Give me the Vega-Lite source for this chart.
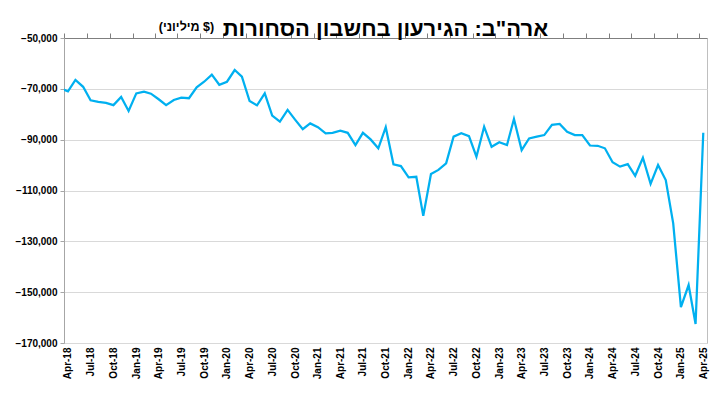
{
  "$schema": "https://vega.github.io/schema/vega-lite/v6.json",
  "width": 643,
  "height": 305,
  "autosize": {"type": "none"},
  "padding": {"left": 64, "top": 38, "right": 11, "bottom": 55},
  "background": "white",
  "title": {
    "text": "ארה\"ב: הגירעון בחשבון הסחורות",
    "font": "Liberation Sans",
    "fontSize": 22,
    "fontWeight": "bold",
    "color": "#000000",
    "anchor": "middle",
    "frame": "group",
    "offset": 6,
    "dy": 27
  },
  "config": {
    "view": {"stroke": "#bfbfbf", "strokeWidth": 1}
  },
  "data": {
    "values": [
      {"date": "2018-03-01", "value": -69700},
      {"date": "2018-04-01", "value": -71000},
      {"date": "2018-05-01", "value": -66500},
      {"date": "2018-06-01", "value": -69200},
      {"date": "2018-07-01", "value": -74500},
      {"date": "2018-08-01", "value": -75100},
      {"date": "2018-09-01", "value": -75500},
      {"date": "2018-10-01", "value": -76400},
      {"date": "2018-11-01", "value": -73200},
      {"date": "2018-12-01", "value": -78700},
      {"date": "2019-01-01", "value": -71800},
      {"date": "2019-02-01", "value": -71100},
      {"date": "2019-03-01", "value": -71900},
      {"date": "2019-04-01", "value": -74100},
      {"date": "2019-05-01", "value": -76400},
      {"date": "2019-06-01", "value": -74400},
      {"date": "2019-07-01", "value": -73500},
      {"date": "2019-08-01", "value": -73700},
      {"date": "2019-09-01", "value": -69400},
      {"date": "2019-10-01", "value": -67200},
      {"date": "2019-11-01", "value": -64400},
      {"date": "2019-12-01", "value": -68400},
      {"date": "2020-01-01", "value": -67200},
      {"date": "2020-02-01", "value": -62600},
      {"date": "2020-03-01", "value": -65200},
      {"date": "2020-04-01", "value": -74800},
      {"date": "2020-05-01", "value": -76500},
      {"date": "2020-06-01", "value": -71800},
      {"date": "2020-07-01", "value": -80500},
      {"date": "2020-08-01", "value": -82900},
      {"date": "2020-09-01", "value": -78300},
      {"date": "2020-10-01", "value": -82100},
      {"date": "2020-11-01", "value": -85900},
      {"date": "2020-12-01", "value": -83600},
      {"date": "2021-01-01", "value": -85100},
      {"date": "2021-02-01", "value": -87500},
      {"date": "2021-03-01", "value": -87300},
      {"date": "2021-04-01", "value": -86500},
      {"date": "2021-05-01", "value": -87300},
      {"date": "2021-06-01", "value": -92100},
      {"date": "2021-07-01", "value": -87300},
      {"date": "2021-08-01", "value": -89900},
      {"date": "2021-09-01", "value": -93400},
      {"date": "2021-10-01", "value": -85100},
      {"date": "2021-11-01", "value": -99700},
      {"date": "2021-12-01", "value": -100400},
      {"date": "2022-01-01", "value": -104800},
      {"date": "2022-02-01", "value": -104600},
      {"date": "2022-03-01", "value": -120000},
      {"date": "2022-04-01", "value": -103500},
      {"date": "2022-05-01", "value": -101900},
      {"date": "2022-06-01", "value": -99300},
      {"date": "2022-07-01", "value": -88800},
      {"date": "2022-08-01", "value": -87500},
      {"date": "2022-09-01", "value": -88600},
      {"date": "2022-10-01", "value": -96700},
      {"date": "2022-11-01", "value": -84900},
      {"date": "2022-12-01", "value": -92800},
      {"date": "2023-01-01", "value": -91000},
      {"date": "2023-02-01", "value": -92100},
      {"date": "2023-03-01", "value": -81900},
      {"date": "2023-04-01", "value": -94100},
      {"date": "2023-05-01", "value": -89500},
      {"date": "2023-06-01", "value": -88800},
      {"date": "2023-07-01", "value": -88200},
      {"date": "2023-08-01", "value": -84200},
      {"date": "2023-09-01", "value": -83800},
      {"date": "2023-10-01", "value": -86900},
      {"date": "2023-11-01", "value": -88200},
      {"date": "2023-12-01", "value": -88200},
      {"date": "2024-01-01", "value": -92300},
      {"date": "2024-02-01", "value": -92400},
      {"date": "2024-03-01", "value": -93400},
      {"date": "2024-04-01", "value": -98900},
      {"date": "2024-05-01", "value": -100600},
      {"date": "2024-06-01", "value": -99600},
      {"date": "2024-07-01", "value": -104200},
      {"date": "2024-08-01", "value": -97100},
      {"date": "2024-09-01", "value": -107400},
      {"date": "2024-10-01", "value": -100000},
      {"date": "2024-11-01", "value": -105900},
      {"date": "2024-12-01", "value": -122900},
      {"date": "2025-01-01", "value": -155900},
      {"date": "2025-02-01", "value": -147200},
      {"date": "2025-03-01", "value": -162500},
      {"date": "2025-04-01", "value": -87300}
    ]
  },
  "resolve": {"axis": {"x": "independent"}},
  "layer": [
    {
      "mark": {"type": "line", "color": "#00b0f0", "strokeWidth": 2.25, "clip": true},
      "encoding": {
        "x": {
          "field": "date",
          "type": "temporal",
          "scale": {
            "type": "utc",
            "domain": [
              {"year": 2018, "month": 3, "date": 16, "utc": true},
              {"year": 2025, "month": 4, "date": 16, "utc": true}
            ]
          },
          "axis": {
            "orient": "bottom",
            "title": null,
            "tickCount": {"interval": "month", "step": 3},
            "format": "%b-%y",
            "labelAngle": -90,
            "labelAlign": "right",
            "labelBaseline": "middle",
            "labelPadding": 4,
            "labelFont": "Liberation Sans",
            "labelFontSize": 10,
            "labelFontWeight": "bold",
            "labelColor": "#000000",
            "labelOverlap": false,
            "labelFlush": false,
            "ticks": false,
            "domain": false,
            "grid": false
          }
        },
        "y": {
          "field": "value",
          "type": "quantitative",
          "scale": {"domain": [-170000, -50000], "nice": false, "zero": false},
          "axis": {
            "title": "(מיליוני $)",
            "titleAngle": 0,
            "titleX": 122,
            "titleY": -12,
            "titleAlign": "center",
            "titleBaseline": "middle",
            "titleFont": "Liberation Sans",
            "titleFontSize": 12.5,
            "titleFontWeight": "bold",
            "titleColor": "#000000",
            "values": [-170000, -150000, -130000, -110000, -90000, -70000, -50000],
            "format": ",.0f",
            "labelFont": "Liberation Sans",
            "labelFontSize": 10,
            "labelFontWeight": "bold",
            "labelColor": "#000000",
            "labelPadding": 3,
            "labelFlush": false,
            "tickSize": 4,
            "tickColor": "#a6a6a6",
            "domainColor": "#a6a6a6",
            "grid": true,
            "gridColor": "#d9d9d9"
          }
        }
      }
    },
    {
      "mark": {"type": "line", "opacity": 0},
      "encoding": {
        "x": {
          "field": "date",
          "type": "temporal",
          "axis": {
            "orient": "top",
            "title": null,
            "labels": false,
            "tickCount": {"interval": "month", "step": 3},
            "tickOffset": -3.8,
            "tickSize": 5,
            "tickColor": "#7f7f7f",
            "domainColor": "#7f7f7f",
            "grid": false
          }
        },
        "y": {"field": "value", "type": "quantitative"}
      }
    }
  ]
}
